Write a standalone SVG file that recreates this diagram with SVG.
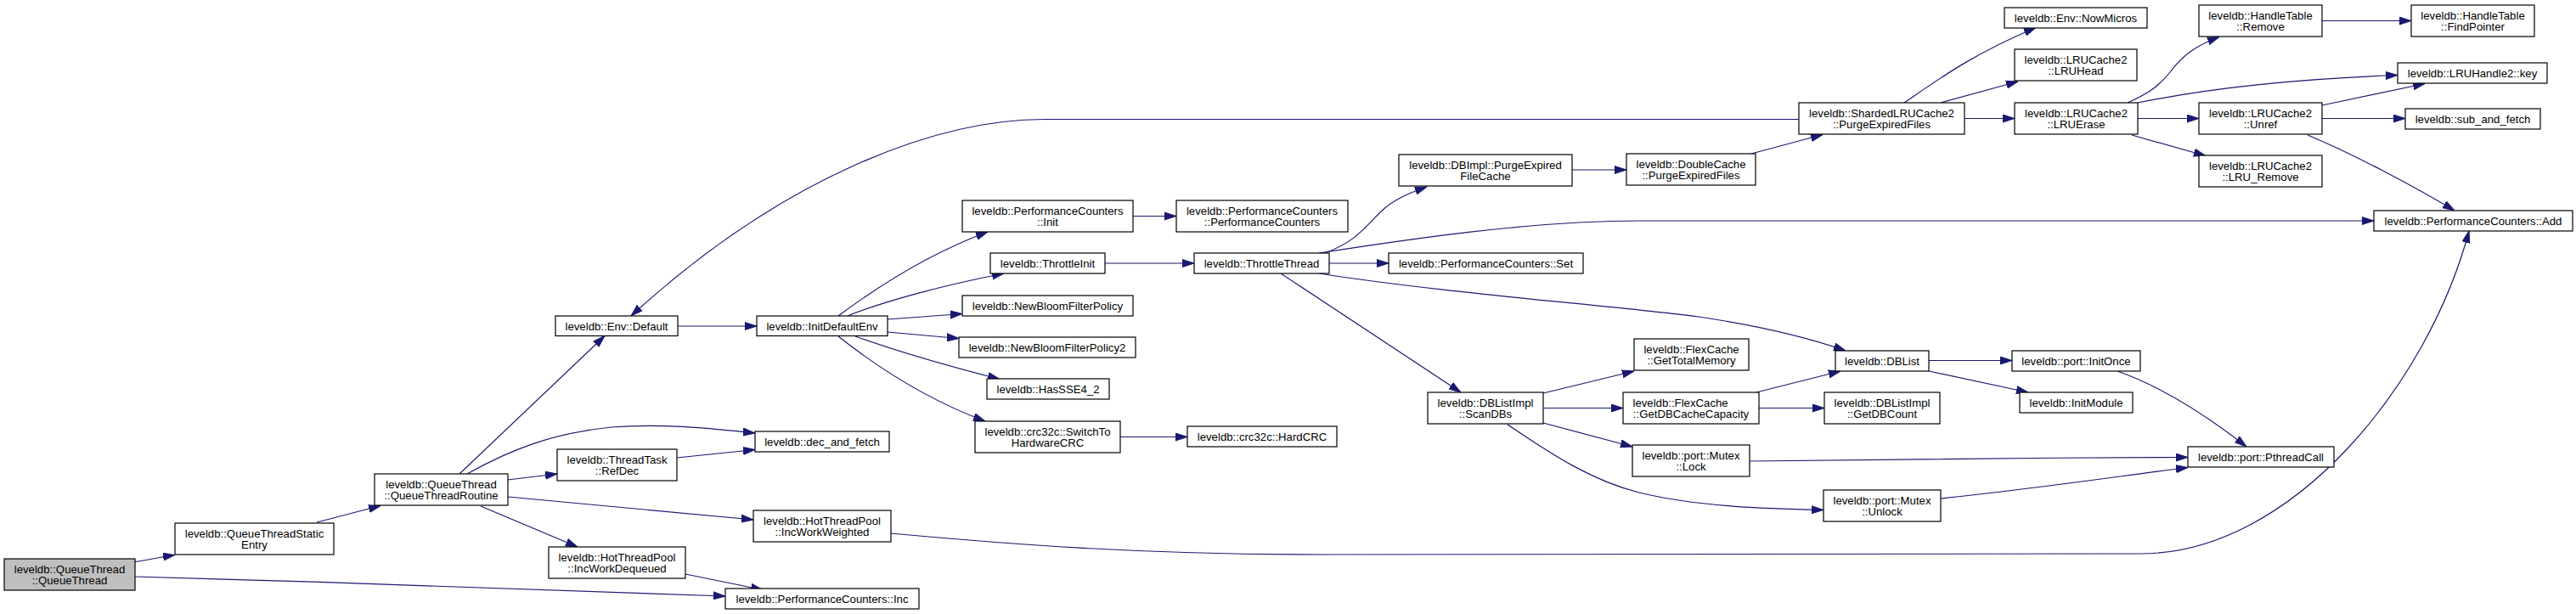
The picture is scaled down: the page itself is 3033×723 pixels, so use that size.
<svg xmlns="http://www.w3.org/2000/svg" width="3033" height="723" viewBox="0 0 3033 723">
<style>
.node rect{fill:#ffffff;stroke:#000000;stroke-width:1.2}
.node.root rect{fill:#bfbfbf}
.node text{font-family:"Liberation Sans",Arial,Helvetica,sans-serif;font-size:13.2px;text-anchor:middle;fill:#000000}
.edges path{fill:none;stroke:#191970;stroke-width:1.2;marker-end:url(#arr)}
</style>
<defs>
<marker id="arr" markerUnits="userSpaceOnUse" markerWidth="14" markerHeight="10" viewBox="0 0 14 10" refX="14" refY="5" orient="auto">
<path d="M0,0.5 L14,5 L0,9.5 Z" fill="#191970" stroke="#191970" stroke-width="1"/>
</marker>
</defs>
<rect width="3033" height="723" fill="#ffffff"/>
<g id="edges" class="edges">
<path d="M158.7,661.7 C175,659 190,656 206,653.5"/>
<path d="M159,679 C400,686 700,695 854,702"/>
<path d="M373,615 L448,595.5"/>
<path d="M541,558 L712,395.5"/>
<path d="M550,558 C600,530 650,510 720,503 C780,498 840,505 889,510"/>
<path d="M598,565 L656,558"/>
<path d="M598,585 L887,612"/>
<path d="M566,596 L680,644"/>
<path d="M807,676 L898,694.5"/>
<path d="M797,539 L889,529.5"/>
<path d="M798,384 L891,384"/>
<path d="M2118,140.5 L1230,140.5 C1100,140.5 920,210 743,372"/>
<path d="M987,372 C1030,340 1090,300 1163,273"/>
<path d="M998,372 C1040,355 1110,336 1182,322"/>
<path d="M1045,376 L1133,369.5"/>
<path d="M1045,391 L1129,398.5"/>
<path d="M1007,396 C1060,415 1120,432 1177,446.5"/>
<path d="M987,396 C1030,430 1090,470 1160,496"/>
<path d="M1334,254.5 L1385,254.5"/>
<path d="M1301,310 L1406,310"/>
<path d="M1319,514.5 L1398,514.5"/>
<path d="M1560,298 C1595,285 1605,270 1625,250 C1640,235 1660,227 1680,220"/>
<path d="M1553,298 C1650,283 1800,260 1930,260 L2795,260"/>
<path d="M1565,310 L1635,310"/>
<path d="M1553,322 C1700,345 1900,360 2000,373 C2080,385 2130,398 2173,413"/>
<path d="M1508,322 L1720,462"/>
<path d="M1851,200 L1915,200"/>
<path d="M2062,181 L2146,158.5"/>
<path d="M2242,121 C2280,95 2320,65 2397,32.5"/>
<path d="M2285,121 L2376,96"/>
<path d="M2313,139.5 L2372,139.5"/>
<path d="M2505,121 C2525,112 2540,104 2555,85 C2572,62 2590,52 2613,43.5"/>
<path d="M2517,121 C2600,104 2700,93 2823,88.5"/>
<path d="M2517,139.5 L2589,139.5"/>
<path d="M2510,159 L2597,183.5"/>
<path d="M2734,24.5 L2839,24.5"/>
<path d="M2734,124 L2855,98.5"/>
<path d="M2734,139.5 L2832,139.5"/>
<path d="M2717,159 C2770,181 2840,218 2890,248"/>
<path d="M1049,628 C1200,642 1350,653 1560,653 L2520,652 C2700,652 2860,450 2907,272"/>
<path d="M1817,463 L1924,437"/>
<path d="M1817,480.5 L1911,480.5"/>
<path d="M1817,498 L1922,526"/>
<path d="M1775,500 C1820,530 1870,565 1930,580 C2000,597 2080,599 2147,600.5"/>
<path d="M2068,462 L2167,437"/>
<path d="M2071,480.5 L2148,480.5"/>
<path d="M2271,424.5 L2369,424.5"/>
<path d="M2271,437 L2388,462"/>
<path d="M2493,437 C2530,450 2580,475 2645,526"/>
<path d="M2060,543 C2200,541 2400,539 2576,538.5"/>
<path d="M2285,587 C2400,575 2500,560 2576,550.5"/>
</g>
<g id="n1" class="node root"><rect x="5" y="658" width="154" height="37"/><text x="82" y="675">leveldb::QueueThread</text><text x="82" y="688.3">::QueueThread</text></g>
<g id="n2" class="node"><rect x="206" y="616" width="187" height="37"/><text x="299.5" y="633">leveldb::QueueThreadStatic</text><text x="299.5" y="646.3">Entry</text></g>
<g id="n3" class="node"><rect x="441" y="558" width="157" height="37"/><text x="519.5" y="575">leveldb::QueueThread</text><text x="519.5" y="588.3">::QueueThreadRoutine</text></g>
<g id="n4" class="node"><rect x="654" y="372" width="144" height="23.5"/><text x="726" y="389">leveldb::Env::Default</text></g>
<g id="n5" class="node"><rect x="891" y="372" width="154" height="23.5"/><text x="968" y="389">leveldb::InitDefaultEnv</text></g>
<g id="n6" class="node"><rect x="889" y="508" width="158" height="24"/><text x="968" y="525">leveldb::dec_and_fetch</text></g>
<g id="n7" class="node"><rect x="656" y="529" width="141" height="37"/><text x="726.5" y="546">leveldb::ThreadTask</text><text x="726.5" y="559.3">::RefDec</text></g>
<g id="n8" class="node"><rect x="887" y="601" width="162" height="37"/><text x="968" y="618">leveldb::HotThreadPool</text><text x="968" y="631.3">::IncWorkWeighted</text></g>
<g id="n9" class="node"><rect x="646" y="644" width="161" height="37"/><text x="726.5" y="661">leveldb::HotThreadPool</text><text x="726.5" y="674.3">::IncWorkDequeued</text></g>
<g id="n10" class="node"><rect x="854" y="693" width="228" height="24"/><text x="968" y="710">leveldb::PerformanceCounters::Inc</text></g>
<g id="n11" class="node"><rect x="1133" y="236" width="201" height="37"/><text x="1233.5" y="253">leveldb::PerformanceCounters</text><text x="1233.5" y="266.3">::Init</text></g>
<g id="n12" class="node"><rect x="1385" y="236" width="202" height="37"/><text x="1486" y="253">leveldb::PerformanceCounters</text><text x="1486" y="266.3">::PerformanceCounters</text></g>
<g id="n13" class="node"><rect x="1166" y="298" width="135" height="24"/><text x="1233.5" y="315">leveldb::ThrottleInit</text></g>
<g id="n14" class="node"><rect x="1406" y="298" width="159" height="24"/><text x="1485.5" y="315">leveldb::ThrottleThread</text></g>
<g id="n15" class="node"><rect x="1133" y="348" width="201" height="24"/><text x="1233.5" y="365">leveldb::NewBloomFilterPolicy</text></g>
<g id="n16" class="node"><rect x="1129" y="397" width="208" height="24"/><text x="1233" y="414">leveldb::NewBloomFilterPolicy2</text></g>
<g id="n17" class="node"><rect x="1162" y="446" width="144" height="24"/><text x="1234" y="463">leveldb::HasSSE4_2</text></g>
<g id="n18" class="node"><rect x="1148" y="496" width="171" height="37"/><text x="1233.5" y="513">leveldb::crc32c::SwitchTo</text><text x="1233.5" y="526.3">HardwareCRC</text></g>
<g id="n19" class="node"><rect x="1398" y="502" width="176" height="24"/><text x="1486" y="519">leveldb::crc32c::HardCRC</text></g>
<g id="n20" class="node"><rect x="1647" y="182" width="204" height="37"/><text x="1749" y="199">leveldb::DBImpl::PurgeExpired</text><text x="1749" y="212.3">FileCache</text></g>
<g id="n21" class="node"><rect x="1915" y="181" width="152" height="37"/><text x="1991" y="198">leveldb::DoubleCache</text><text x="1991" y="211.3">::PurgeExpiredFiles</text></g>
<g id="n22" class="node"><rect x="1635" y="298" width="229" height="24"/><text x="1749.5" y="315">leveldb::PerformanceCounters::Set</text></g>
<g id="n23" class="node"><rect x="1681" y="462" width="136" height="37"/><text x="1749" y="479">leveldb::DBListImpl</text><text x="1749" y="492.3">::ScanDBs</text></g>
<g id="n24" class="node"><rect x="1924" y="399" width="135" height="37"/><text x="1991.5" y="416">leveldb::FlexCache</text><text x="1991.5" y="429.3">::GetTotalMemory</text></g>
<g id="n25" class="node"><rect x="1911" y="462" width="160" height="37"/><text x="1922.5" y="479" style="text-anchor:start">leveldb::FlexCache</text><text x="1991" y="492.3">::GetDBCacheCapacity</text></g>
<g id="n26" class="node"><rect x="1922" y="524" width="138" height="37"/><text x="1991" y="541">leveldb::port::Mutex</text><text x="1991" y="554.3">::Lock</text></g>
<g id="n27" class="node"><rect x="2161" y="413" width="110" height="24"/><text x="2216" y="430">leveldb::DBList</text></g>
<g id="n28" class="node"><rect x="2148" y="462" width="136" height="37"/><text x="2216" y="479">leveldb::DBListImpl</text><text x="2216" y="492.3">::GetDBCount</text></g>
<g id="n29" class="node"><rect x="2147" y="577" width="138" height="37"/><text x="2216" y="594">leveldb::port::Mutex</text><text x="2216" y="607.3">::Unlock</text></g>
<g id="n30" class="node"><rect x="2369" y="413" width="151" height="24"/><text x="2444.5" y="430">leveldb::port::InitOnce</text></g>
<g id="n31" class="node"><rect x="2378" y="462" width="133" height="24"/><text x="2444.5" y="479">leveldb::InitModule</text></g>
<g id="n32" class="node"><rect x="2576" y="526" width="172" height="24"/><text x="2662" y="543">leveldb::port::PthreadCall</text></g>
<g id="n33" class="node"><rect x="2118" y="121" width="195" height="37"/><text x="2215.5" y="138">leveldb::ShardedLRUCache2</text><text x="2215.5" y="151.3">::PurgeExpiredFiles</text></g>
<g id="n34" class="node"><rect x="2360" y="9" width="168" height="24"/><text x="2444" y="26">leveldb::Env::NowMicros</text></g>
<g id="n35" class="node"><rect x="2372" y="58" width="144" height="37"/><text x="2444" y="75">leveldb::LRUCache2</text><text x="2444" y="88.3">::LRUHead</text></g>
<g id="n36" class="node"><rect x="2372" y="121" width="145" height="37"/><text x="2444.5" y="138">leveldb::LRUCache2</text><text x="2444.5" y="151.3">::LRUErase</text></g>
<g id="n37" class="node"><rect x="2589" y="6" width="145" height="37"/><text x="2661.5" y="23">leveldb::HandleTable</text><text x="2661.5" y="36.3">::Remove</text></g>
<g id="n38" class="node"><rect x="2839" y="6" width="145" height="37"/><text x="2911.5" y="23">leveldb::HandleTable</text><text x="2911.5" y="36.3">::FindPointer</text></g>
<g id="n39" class="node"><rect x="2823" y="74" width="176" height="24"/><text x="2911" y="91">leveldb::LRUHandle2::key</text></g>
<g id="n40" class="node"><rect x="2589" y="121" width="145" height="37"/><text x="2661.5" y="138">leveldb::LRUCache2</text><text x="2661.5" y="151.3">::Unref</text></g>
<g id="n41" class="node"><rect x="2832" y="128" width="159" height="24"/><text x="2911.5" y="145">leveldb::sub_and_fetch</text></g>
<g id="n42" class="node"><rect x="2589" y="183" width="145" height="37"/><text x="2661.5" y="200">leveldb::LRUCache2</text><text x="2661.5" y="213.3">::LRU_Remove</text></g>
<g id="n43" class="node"><rect x="2795" y="248" width="234" height="24"/><text x="2912" y="265">leveldb::PerformanceCounters::Add</text></g>
</svg>
